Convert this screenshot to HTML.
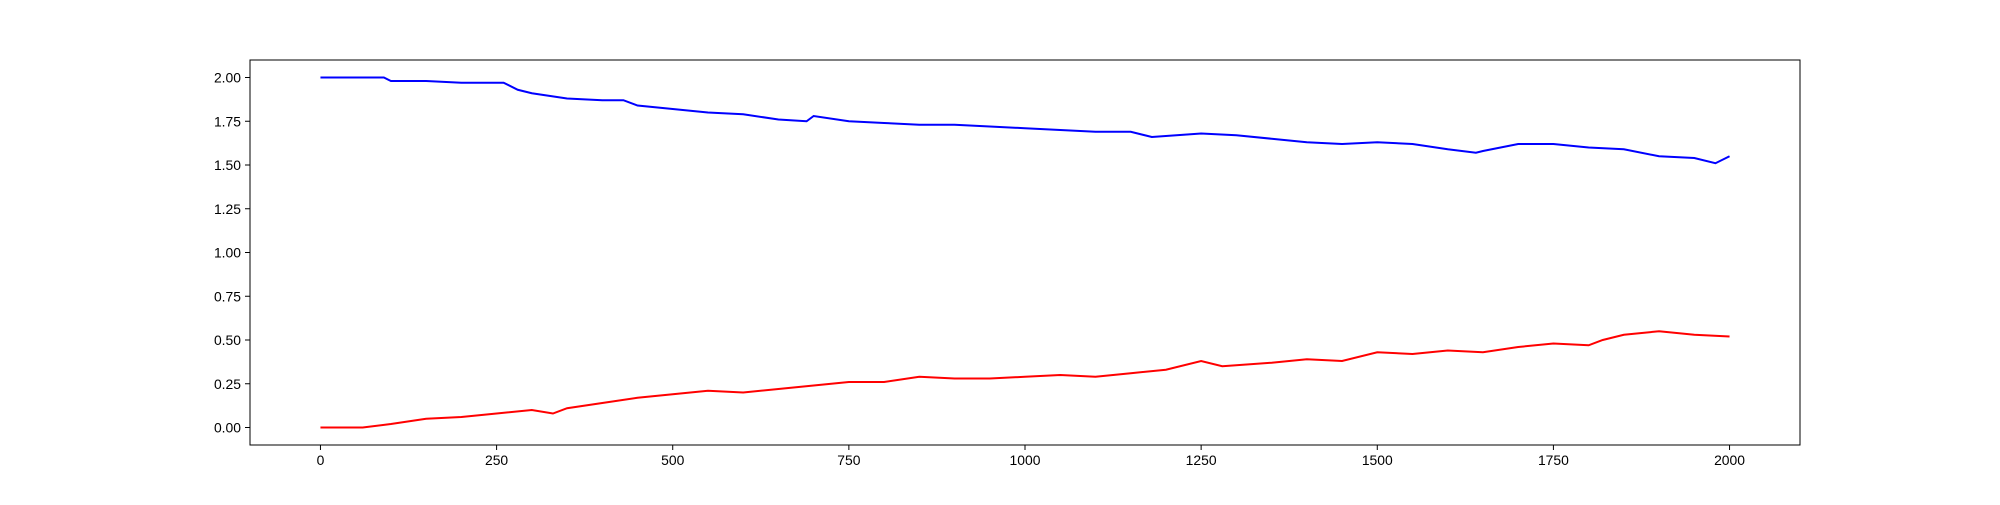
<!DOCTYPE html>
<html><head><meta charset="utf-8"><style>
html,body{margin:0;padding:0;background:#fff;}
svg text{font-family:"Liberation Sans","DejaVu Sans",sans-serif;font-size:13.9px;fill:#000;}
</style></head><body>
<svg id="chart" width="2000" height="500" xmlns="http://www.w3.org/2000/svg">
<g id="plot"></g>
</svg>
<script>
const blueX=[0,90,100,150,200,260,280,300,350,400,430,450,500,550,600,650,690,700,750,800,850,900,950,1000,1050,1100,1150,1180,1250,1300,1350,1400,1450,1500,1550,1600,1640,1650,1700,1750,1800,1850,1900,1950,1980,2000];
const blueY=[2.00,2.00,1.98,1.98,1.97,1.97,1.93,1.91,1.88,1.87,1.87,1.84,1.82,1.80,1.79,1.76,1.75,1.78,1.75,1.74,1.73,1.73,1.72,1.71,1.70,1.69,1.69,1.66,1.68,1.67,1.65,1.63,1.62,1.63,1.62,1.59,1.57,1.58,1.62,1.62,1.60,1.59,1.55,1.54,1.51,1.55];
const redX=[0,60,100,150,200,250,300,330,350,400,450,500,550,600,650,700,750,800,850,900,950,1000,1050,1100,1150,1200,1250,1280,1350,1400,1450,1500,1550,1600,1650,1700,1750,1800,1820,1850,1900,1950,2000];
const redY=[0.00,0.00,0.02,0.05,0.06,0.08,0.10,0.08,0.11,0.14,0.17,0.19,0.21,0.20,0.22,0.24,0.26,0.26,0.29,0.28,0.28,0.29,0.30,0.29,0.31,0.33,0.38,0.35,0.37,0.39,0.38,0.43,0.42,0.44,0.43,0.46,0.48,0.47,0.50,0.53,0.55,0.53,0.52];
const xTicks=[0,250,500,750,1000,1250,1500,1750,2000];
const yTicks=[0,0.25,0.5,0.75,1.0,1.25,1.5,1.75,2.0];
const L=250,R=1800,T=60,B=445;
const xMin=-100,xMax=2100,yMin=-0.1,yMax=2.1;
const sx=v=>L+(v-xMin)/(xMax-xMin)*(R-L);
const sy=v=>B-(v-yMin)/(yMax-yMin)*(B-T);
const NS="http://www.w3.org/2000/svg";
const g=document.getElementById('plot');
function mk(t,a){const e=document.createElementNS(NS,t);for(const k in a)e.setAttribute(k,a[k]);g.appendChild(e);return e;}
function line(xs,ys,color,name){
  const p=mk('polyline',{points:xs.map((x,i)=>sx(x)+','+sy(ys[i])).join(' '),fill:'none',stroke:color,'stroke-width':2});
  
  
}
line(blueX,blueY,'#0000ff','blue-series-line');
line(redX,redY,'#ff0000','red-series-line');
const frame=mk('rect',{x:L,y:T,width:R-L,height:B-T,fill:'none',stroke:'#000','stroke-width':1});


xTicks.forEach(v=>{
  const x=sx(v);
  const t=mk('line',{x1:x,x2:x,y1:B,y2:B+5,stroke:'#000'});
  
  
  const l=mk('text',{x:x,y:B+20,'text-anchor':'middle'});l.textContent=String(v);
  
  
});
yTicks.forEach(v=>{
  const y=sy(v);
  const t=mk('line',{x1:L-5,x2:L,y1:y,y2:y,stroke:'#000'});
  
  
  const l=mk('text',{x:L-9,y:y+5,'text-anchor':'end'});l.textContent=v.toFixed(2);
  
  
});
</script>
</body></html>
